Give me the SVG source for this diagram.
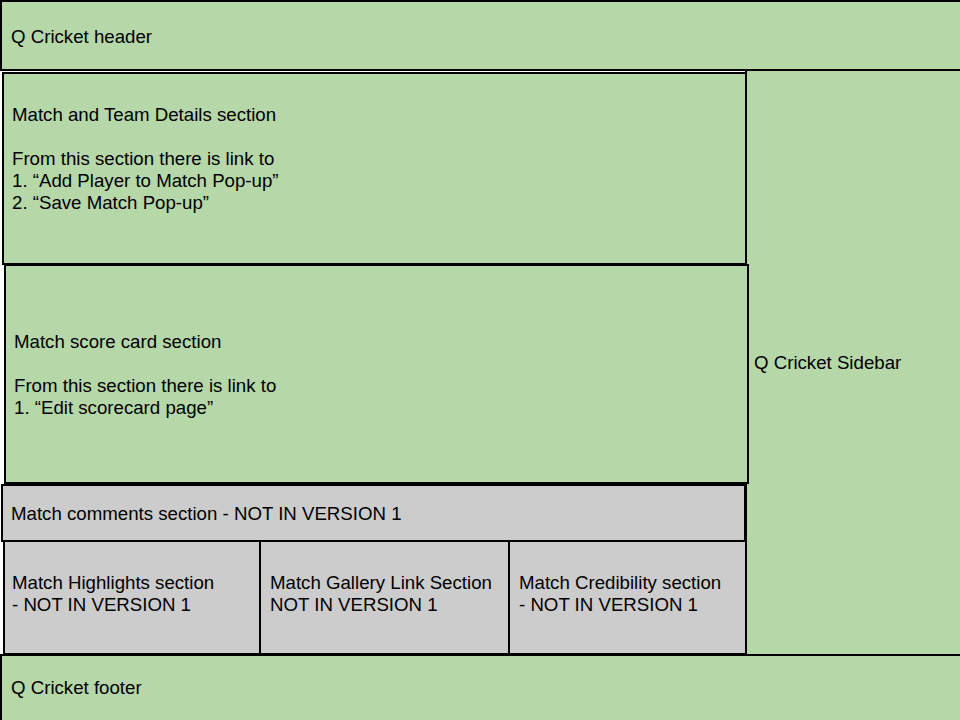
<svg xmlns="http://www.w3.org/2000/svg" width="960" height="720" viewBox="0 0 960 720">
<style>
.g{fill:#b6d7a8;stroke:#000;stroke-width:2}
.s{fill:#cccccc;stroke:#000;stroke-width:2}
text{font-family:"Liberation Sans",Arial,sans-serif;font-size:18.67px;fill:#000}
</style>
<rect width="960" height="720" fill="#ffffff"/>
<g id="sidebar"><rect class="g" x="746" y="70" width="216" height="585"/><text x="754" y="369">Q Cricket Sidebar</text></g>
<g id="header"><rect class="g" x="1" y="1" width="962" height="69"/><text x="11" y="43">Q Cricket header</text></g>
<g id="match-team"><rect class="g" x="3" y="73" width="743" height="191"/>
<text x="12" y="121">Match and Team Details section</text>
<text x="12" y="165">From this section there is link to</text>
<text x="12" y="187">1. “Add Player to Match Pop-up”</text>
<text x="12" y="209">2. “Save Match Pop-up”</text></g>
<g id="scorecard"><rect class="g" x="5" y="265" width="743" height="218"/>
<text x="14" y="348">Match score card section</text>
<text x="14" y="392">From this section there is link to</text>
<text x="14" y="414">1. “Edit scorecard page”</text></g>
<g id="comments"><rect class="s" x="2" y="485" width="743" height="56"/><text x="11" y="520">Match comments section - NOT IN VERSION 1</text></g>
<g id="highlights"><rect class="s" x="4" y="541" width="256" height="113"/><text x="12" y="589">Match Highlights section</text><text x="12" y="611">- NOT IN VERSION 1</text></g>
<g id="gallery"><rect class="s" x="260" y="541" width="249" height="113"/><text x="270" y="589">Match Gallery Link Section</text><text x="270" y="611">NOT IN VERSION 1</text></g>
<g id="credibility"><rect class="s" x="509" y="541" width="237" height="113"/><text x="519" y="589">Match Credibility section</text><text x="519" y="611">- NOT IN VERSION 1</text></g>
<g id="footer"><rect class="g" x="1" y="655" width="962" height="68"/><text x="11" y="694">Q Cricket footer</text></g>
<g id="connectors"></g>
</svg>
